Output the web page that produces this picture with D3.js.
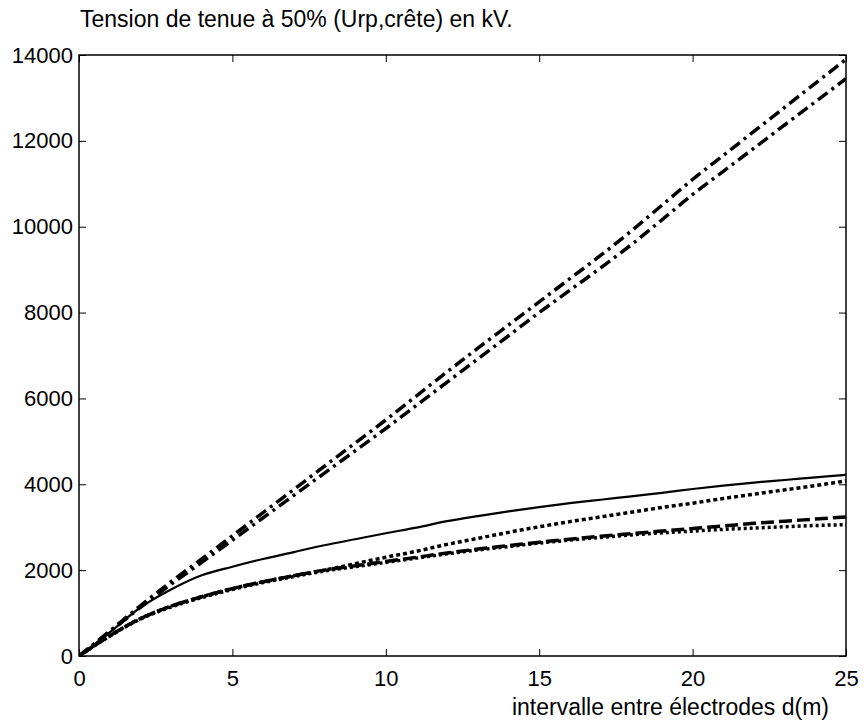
<!DOCTYPE html>
<html lang="fr">
<head>
    <meta charset="UTF-8">
    <title>Tension de tenue à 50%</title>
    <style>
        html, body {
            margin: 0;
            padding: 0;
            background: #fff;
            overflow: hidden;
        }
        svg text {
            font-family: "Liberation Sans", Arial, sans-serif;
            fill: #000;
        }
    </style>
</head>
<body>
    <svg id="chart" width="864" height="725"></svg>

    <script src="https://d3js.org/d3.v7.min.js"></script>
    <script>
        // distances d (m)
        const distances = [0, 1, 2, 3, 4, 5, 6, 7, 8, 9, 10, 11, 12, 13, 14, 15, 16, 17, 18, 19, 20, 21, 22, 23, 24, 25];

        // courbes quasi linéaires (tiret-point)
        const upperA = [0, 580, 1170, 1730, 2260, 2800, 3340, 3880, 4420, 4960, 5500, 6060, 6620, 7170, 7710, 8250, 8790, 9330, 9900, 10500, 11100, 11660, 12220, 12780, 13340, 13900];
        const upperB = [0, 560, 1130, 1670, 2180, 2700, 3220, 3740, 4260, 4780, 5300, 5840, 6380, 6920, 7460, 8000, 8520, 9040, 9580, 10160, 10750, 11290, 11830, 12370, 12910, 13450];

        // courbes saturées
        const solidCurve = [0, 550, 1130, 1550, 1880, 2080, 2260, 2420, 2580, 2720, 2860, 2990, 3140, 3260, 3370, 3470, 3560, 3640, 3720, 3800, 3890, 3970, 4040, 4100, 4160, 4220];
        const dottedHigh = [0, 470, 870, 1160, 1380, 1570, 1730, 1870, 2000, 2150, 2300, 2440, 2600, 2740, 2880, 3010, 3130, 3240, 3350, 3460, 3560, 3670, 3770, 3870, 3970, 4080];
        const dashedCurve = [0, 470, 870, 1160, 1380, 1570, 1730, 1870, 2000, 2100, 2200, 2300, 2400, 2490, 2570, 2650, 2720, 2790, 2850, 2910, 2970, 3030, 3090, 3140, 3190, 3240];
        const dottedLow = [0, 460, 860, 1140, 1360, 1550, 1710, 1850, 1980, 2080, 2180, 2280, 2380, 2470, 2550, 2630, 2700, 2760, 2820, 2870, 2910, 2950, 2980, 3010, 3040, 3060];

        const xTicks = [0, 5, 10, 15, 20, 25];
        const yTicks = [0, 2000, 4000, 6000, 8000, 10000, 12000, 14000];

        const titleText = 'Tension de tenue à 50% (Urp,crête) en kV.';
        const xLabelText = 'intervalle entre électrodes d(m)';

        const series = [
            { values: upperA, dash: '12,5,3,5', width: 3.5 },
            { values: upperB, dash: '12,5,3,5', width: 3.5 },
            { values: solidCurve, dash: null, width: 2.2 },
            { values: dottedHigh, dash: '4,3', width: 3.5 },
            { values: dashedCurve, dash: '13,5', width: 3.5 },
            { values: dottedLow, dash: '3,3', width: 3.5 },
        ];

        const margin = { left: 79, top: 55, right: 18, bottom: 69 };
        const W = 864, H = 725;
        const w = W - margin.left - margin.right;
        const h = H - margin.top - margin.bottom;

        const svg = d3.select('#chart');
        const g = svg.append('g').attr('transform', `translate(${margin.left},${margin.top})`);

        const x = d3.scaleLinear().domain([0, 25]).range([0, w]);
        const y = d3.scaleLinear().domain([0, 14000]).range([h, 0]);

        g.append('clipPath').attr('id', 'clip')
            .append('rect').attr('width', w).attr('height', h);

        const line = d3.line()
            .x((d, i) => x(distances[i]))
            .y(d => y(d))
            .curve(d3.curveMonotoneX);

        g.append('g').attr('clip-path', 'url(#clip)')
            .selectAll('path')
            .data(series)
            .enter()
            .append('path')
            .attr('d', s => line(s.values))
            .attr('fill', 'none')
            .attr('stroke', '#000')
            .attr('stroke-width', s => s.width)
            .attr('stroke-dasharray', s => s.dash)
            .attr('stroke-linecap', 'butt');

        // axes style matlab : graduations vers l'intérieur
        const tickLen = 7;
        const fs = 22;

        const bottomAxis = d3.axisBottom(x).tickValues(xTicks).tickSizeInner(-tickLen).tickSizeOuter(0).tickPadding(14);
        const topAxis = d3.axisTop(x).tickValues(xTicks).tickSizeInner(-tickLen).tickSizeOuter(0).tickFormat('');
        const leftAxis = d3.axisLeft(y).tickValues(yTicks).tickSizeInner(-tickLen).tickSizeOuter(0).tickPadding(6).tickFormat(d3.format('d'));
        const rightAxis = d3.axisRight(y).tickValues(yTicks).tickSizeInner(-tickLen).tickSizeOuter(0).tickFormat('');

        g.append('g').attr('transform', `translate(0,${h})`).call(bottomAxis);
        g.append('g').call(topAxis);
        g.append('g').call(leftAxis);
        g.append('g').attr('transform', `translate(${w},0)`).call(rightAxis);

        g.selectAll('.domain').remove();
        g.selectAll('.tick line').attr('stroke', '#000').attr('stroke-width', 1);
        g.selectAll('.tick text').attr('font-size', fs).attr('font-family', '"Liberation Sans", Arial, sans-serif').attr('fill', '#000');

        g.append('rect')
            .attr('width', w).attr('height', h)
            .attr('fill', 'none').attr('stroke', '#000').attr('stroke-width', 1.5);

        svg.append('text')
            .attr('x', margin.left + 1)
            .attr('y', 27)
            .attr('font-size', 23)
            .text(titleText);

        svg.append('text')
            .attr('x', 829)
            .attr('y', 715)
            .attr('text-anchor', 'end')
            .attr('font-size', 23)
            .text(xLabelText);
    </script>
</body>
</html>
